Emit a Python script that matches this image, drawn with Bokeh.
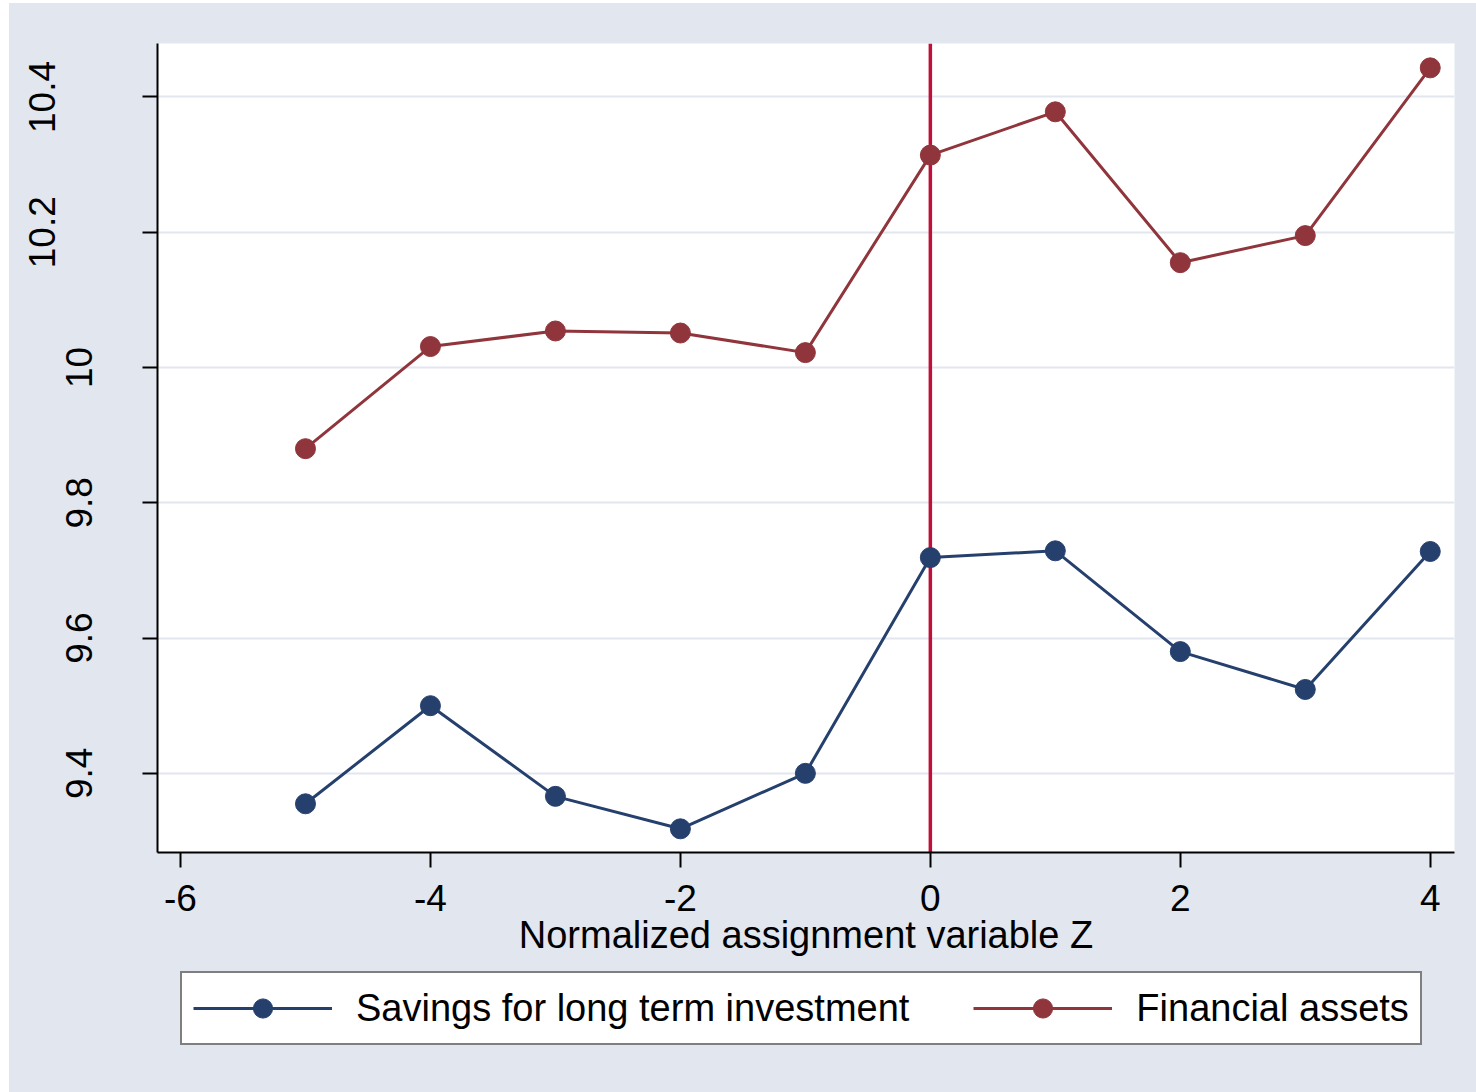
from bokeh.plotting import figure
from bokeh.layouts import column
from bokeh.models import LinearAxis, FixedTicker, Range1d, Span, Legend, LegendItem
from bokeh.embed import file_html
from bokeh.resources import INLINE

# ---- data ----
z_values = [-5, -4, -3, -2, -1, 0, 1, 2, 3, 4]
savings = [9.355, 9.500, 9.366, 9.318, 9.400, 9.719, 9.729, 9.580, 9.524, 9.728]
financial = [9.880, 10.031, 10.054, 10.051, 10.022, 10.314, 10.378, 10.155, 10.195, 10.443]
x_ticks = [-6, -4, -2, 0, 2, 4]
x_tick_labels = ["-6", "-4", "-2", "0", "2", "4"]
y_ticks = [9.4, 9.6, 9.8, 10.0, 10.2, 10.4]
y_tick_labels = ["9.4", "9.6", "9.8", "10", "10.2", "10.4"]
series_names = ["Savings for long term investment", "Financial assets"]
cutoff = 0
x_label = "Normalized assignment variable Z"

BG = "#e1e6ef"
NAVY = "#26406e"
MAROON = "#90353b"
RED = "#c0103a"
FONT = "Liberation Sans"

p = figure(width=1467, height=959, output_backend="svg", toolbar_location=None,
           x_range=Range1d(-6.184, 4.194), y_range=Range1d(9.283, 10.479),
           min_border_left=148, min_border_right=22, min_border_top=40, min_border_bottom=110,
           background_fill_color="white", border_fill_color=BG, outline_line_color=None,
           margin=(0, 0, 0, 0))

# grids
p.xgrid.visible = False
p.ygrid.ticker = FixedTicker(ticks=y_ticks)
p.ygrid.grid_line_color = BG
p.ygrid.grid_line_width = 2

# x axis
xa = p.xaxis[0]
xa.ticker = FixedTicker(ticks=x_ticks)
xa.major_label_overrides = {t: lab for t, lab in zip(x_ticks, x_tick_labels)}
xa.axis_line_width = 2
xa.axis_line_color = "black"
xa.major_tick_out = 15
xa.major_tick_in = 0
xa.major_tick_line_width = 2
xa.minor_tick_line_color = None
xa.major_label_text_font = FONT
xa.major_label_text_font_size = "37px"
xa.major_label_text_color = "black"
xa.major_label_standoff = 17
xa.axis_label = x_label
xa.axis_label_text_font = FONT
xa.axis_label_text_font_size = "38px"
xa.axis_label_text_font_style = "normal"
xa.axis_label_text_color = "black"
xa.axis_label_standoff = 0

# inner y axis (ticks + short labels)
ya = p.yaxis[0]
ya.ticker = FixedTicker(ticks=y_ticks)
ya.major_label_overrides = {t: (lab if len(lab) < 4 else "") for t, lab in zip(y_ticks, y_tick_labels)}
ya.major_label_orientation = "vertical"
ya.axis_line_width = 2
ya.axis_line_color = "black"
ya.major_tick_out = 15
ya.major_tick_in = 0
ya.major_tick_line_width = 2
ya.minor_tick_line_color = None
ya.major_label_text_font = FONT
ya.major_label_text_font_size = "37px"
ya.major_label_text_color = "black"
ya.major_label_standoff = 50

# outer y axis (long labels only)
long_ticks = [t for t, lab in zip(y_ticks, y_tick_labels) if len(lab) >= 4]
ya2 = LinearAxis(ticker=FixedTicker(ticks=long_ticks),
                 major_label_overrides={t: lab for t, lab in zip(y_ticks, y_tick_labels) if len(lab) >= 4},
                 major_label_orientation="vertical",
                 axis_line_color=None, major_tick_line_color=None, minor_tick_line_color=None,
                 major_tick_out=0, major_tick_in=0, major_label_standoff=8,
                 major_label_text_font=FONT, major_label_text_font_size="37px",
                 major_label_text_color="black")
p.add_layout(ya2, "left")

# cutoff line
span = Span(location=cutoff, dimension="height", line_color=RED, line_width=3.5, level="underlay")
p.add_layout(span)

r1 = p.line(z_values, savings, line_color=NAVY, line_width=3)
s1 = p.scatter(z_values, savings, size=20, fill_color=NAVY, line_color=NAVY)
r2 = p.line(z_values, financial, line_color=MAROON, line_width=3)
s2 = p.scatter(z_values, financial, size=20, fill_color=MAROON, line_color=MAROON)

# legend strip below the graph (its glyphs are proxies lying outside the strip's range)
p2 = figure(width=1467, height=130, output_backend="svg", toolbar_location=None,
            x_range=Range1d(0, 1), y_range=Range1d(0, 1),
            x_axis_location=None, y_axis_location=None,
            min_border=0, min_border_left=0, min_border_right=0, min_border_top=0, min_border_bottom=0,
            background_fill_color=BG, border_fill_color=BG, outline_line_color=None,
            margin=(0, 0, 0, 0))
p2.grid.visible = False
lr1 = p2.line(z_values, savings, line_color=NAVY, line_width=3)
ls1 = p2.scatter(z_values, savings, size=20, fill_color=NAVY, line_color=NAVY)
lr2 = p2.line(z_values, financial, line_color=MAROON, line_width=3)
ls2 = p2.scatter(z_values, financial, size=20, fill_color=MAROON, line_color=MAROON)

legend = Legend(items=[LegendItem(label=series_names[0], renderers=[lr1, ls1]),
                       LegendItem(label=series_names[1], renderers=[lr2, ls2])],
                location=(23, 47), orientation="horizontal",
                border_line_color="black", border_line_width=2,
                background_fill_color="white", background_fill_alpha=1,
                label_text_font=FONT, label_text_font_size="38px", label_text_color="black",
                glyph_width=139, glyph_height=48, label_height=48, label_standoff=24,
                spacing=64, padding=11, margin=0)
p2.add_layout(legend)

layout = column(p, p2, spacing=0, margin=(3, 0, 0, 9), background=BG)

open("out.html", "w").write(file_html(layout, INLINE))
